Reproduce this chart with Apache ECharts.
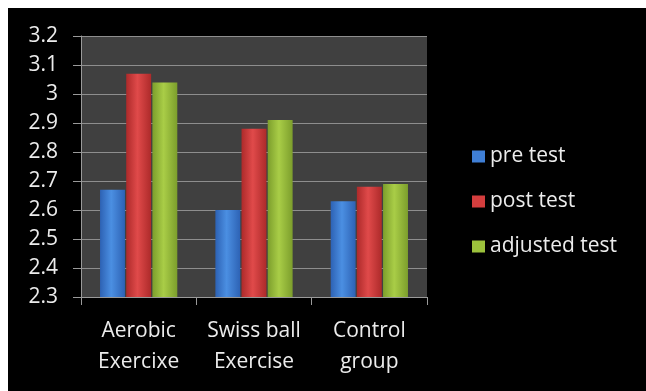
<!DOCTYPE html>
<html>
<head>
<meta charset="utf-8">
<script src="https://cdn.jsdelivr.net/npm/echarts@6/dist/echarts.min.js"></script>
<style>
  body { margin: 8px 0 0 8px; background: #fff; overflow: hidden; }
  #main { width: 638px; height: 383px; background: #000; }
</style>
</head>
<body>
<div id="main"></div>
<script>
var categories = ['Aerobic\nExercixe', 'Swiss ball\nExercise', 'Control\ngroup'];
var seriesNames = ['pre test', 'post test', 'adjusted test'];
var preTest = [2.67, 2.60, 2.63];
var postTest = [3.07, 2.88, 2.68];
var adjustedTest = [3.04, 2.91, 2.69];

var fontFamily = 'Open Sans';
var textColor = '#ececec';

// horizontal gradient to mimic the glossy bars
function barFill(edge, mid) {
  return new echarts.graphic.LinearGradient(0, 0, 1, 0, [
    { offset: 0, color: edge },
    { offset: 0.45, color: mid },
    { offset: 1, color: edge }
  ]);
}

var colors = [
  barFill('#2d62b4', '#4b8fe2'),
  barFill('#ad2a2a', '#e04a4a'),
  barFill('#7c9e2c', '#a9cd47')
];
var legendColors = ['#3f7fd6', '#d43e3e', '#9cc23c'];

var myChart = echarts.init(document.getElementById('main'));

var option = {
  backgroundColor: '#000',
  animation: false,
  grid: {
    left: 73,
    top: 28,
    width: 346,
    height: 261,
    show: true,
    backgroundColor: '#404040',
    borderWidth: 0
  },
  legend: {
    orient: 'vertical',
    left: 459,
    top: 133,
    itemWidth: 13,
    itemHeight: 12,
    itemGap: 24,
    icon: 'rect',
    textStyle: { color: textColor, fontSize: 21, fontFamily: fontFamily, lineHeight: 21 },
    data: seriesNames.map(function (n, i) {
      return { name: n, itemStyle: { color: legendColors[i] } };
    })
  },
  xAxis: {
    type: 'category',
    data: categories,
    axisLine: { lineStyle: { color: '#9a9a9a', width: 1 } },
    axisTick: { show: true, length: 8, lineStyle: { color: '#9a9a9a' } },
    axisLabel: {
      interval: 0, hideOverlap: false,
      color: textColor, fontSize: 21, fontFamily: fontFamily, lineHeight: 31, margin: 19
    }
  },
  yAxis: {
    type: 'value',
    min: 2.3,
    max: 3.2,
    interval: 0.1,
    axisLine: { show: true, lineStyle: { color: '#9a9a9a', width: 1 } },
    axisTick: { show: true, length: 8, lineStyle: { color: '#9a9a9a' } },
    splitLine: { lineStyle: { color: '#8e8e8e', width: 1 } },
    axisLabel: {
      color: textColor, fontSize: 21, fontFamily: fontFamily, margin: 23,
      formatter: function (v) { return String(Math.round(v * 10) / 10); }
    }
  },
  series: [
    { name: seriesNames[0], type: 'bar', data: preTest, barGap: '5%', barCategoryGap: '33%',
      itemStyle: { color: colors[0] } },
    { name: seriesNames[1], type: 'bar', data: postTest,
      itemStyle: { color: colors[1] } },
    { name: seriesNames[2], type: 'bar', data: adjustedTest,
      itemStyle: { color: colors[2] } }
  ]
};

myChart.setOption(option);
</script>
</body>
</html>
